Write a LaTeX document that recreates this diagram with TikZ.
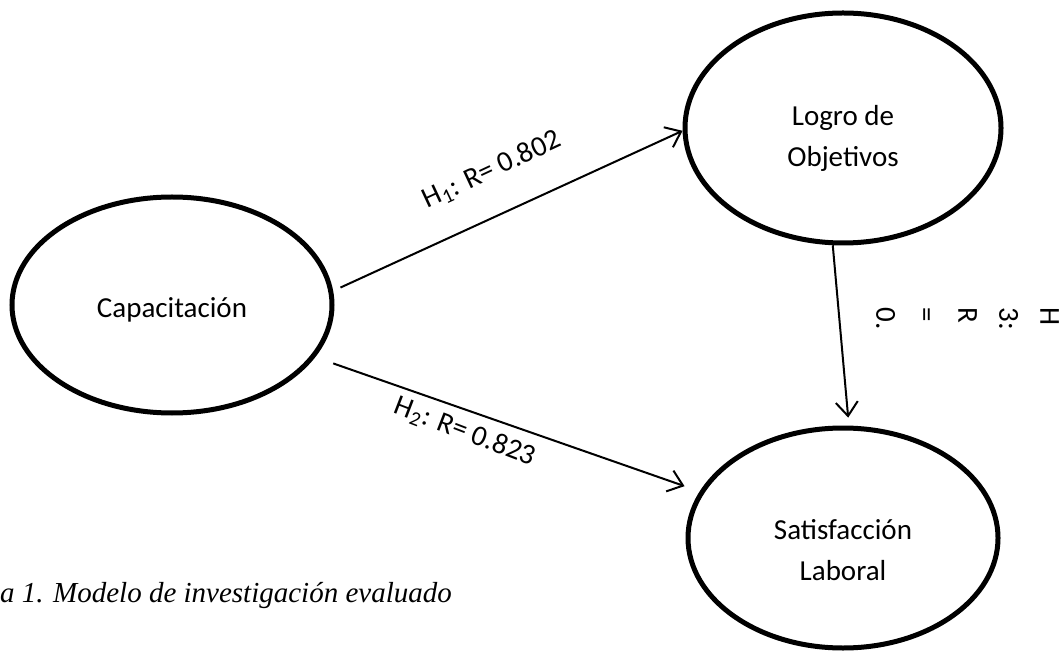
\documentclass[tikz,border=0pt]{standalone}
\usepackage{fontspec}
\setmainfont{Carlito}
\newfontfamily\figfont{Liberation Serif}
\usetikzlibrary{shapes.geometric,arrows.meta}
\begin{document}
\begin{tikzpicture}[x=0.5pt,y=-0.5pt,line width=1pt,
  every node/.style={font=\fontsize{14.5}{20.5}\selectfont,inner sep=1pt},
  every label/.style={align=center},
  var/.style={draw,ellipse,line width=2.5pt},
  link/.style={-{Straight Barb[length=7pt,width=11pt]}}]
\useasboundingbox (0,0) rectangle (1063,651);
\node[var,minimum width=160pt,minimum height=108pt,
  label={[yshift=-2.5pt]center:Capacitación}] (cap) at (172,305) {};
\node[var,minimum width=158pt,minimum height=115pt,
  label={[yshift=-5pt]center:{Logro de\\Objetivos}}] (logro) at (843,128) {};
\node[var,minimum width=155pt,minimum height=110pt,
  label={[yshift=-6pt]center:{Satisfacción\\Laboral}}] (sat) at (843,538) {};
\draw[link,shorten <=4pt] (cap.5) -- (logro.181);
\draw[link,shorten <=9.5pt,shorten >=8pt] (cap.-20) -- (sat.162);
\draw[link,shorten >=4pt] (logro.-95) -- (sat.87);
\node[rotate=25] (h1) at (492,170) {H\textsubscript{1}: R= 0.802};
\node[rotate=-21] (h2) at (465,432) {H\textsubscript{2}: R= 0.823};
\node[rotate=-90,anchor=north west,align=left] (h3) at (1062,305) {H\\3:\\R\\=\\0.};
\node[anchor=base west,inner sep=0pt,font=\figfont\itshape\fontsize{14.5}{17}\selectfont] (fig) at (-1,602) {a 1. Modelo de investigación evaluado};
\end{tikzpicture}
\end{document}
